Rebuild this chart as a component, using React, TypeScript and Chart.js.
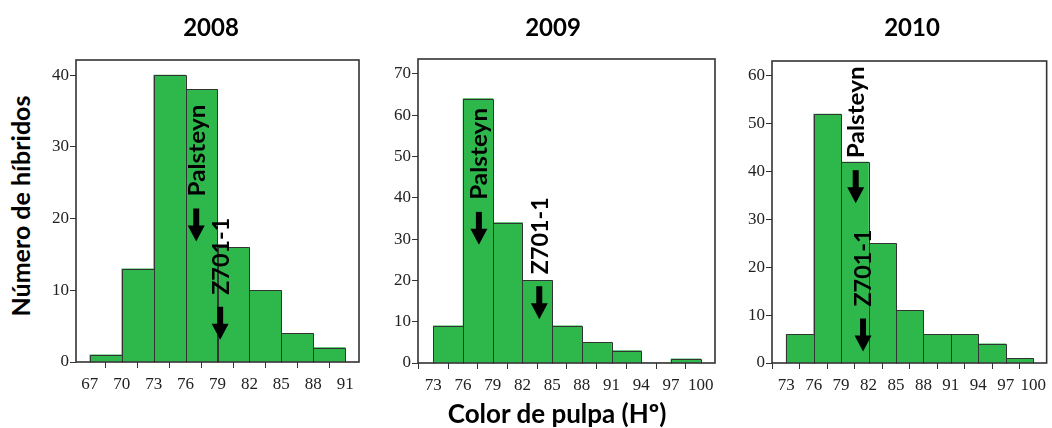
import React, { useEffect, useRef } from 'react';
import { Chart, registerables } from 'chart.js';

Chart.register(...registerables);

// ---------- data ----------
const panelTitles = ['2008', '2009', '2010'];

const binStarts2008 = [67, 70, 73, 76, 79, 82, 85, 88];
const counts2008 = [1, 13, 40, 38, 16, 10, 4, 2];
const binStarts2009 = [73, 76, 79, 82, 85, 88, 91, 94, 97];
const counts2009 = [9, 64, 34, 20, 9, 5, 3, 0, 1];
const binStarts2010 = [73, 76, 79, 82, 85, 88, 91, 94, 97];
const counts2010 = [6, 52, 42, 25, 11, 6, 6, 4, 1];
const binWidth = 3;

const xTicks2008 = [67, 70, 73, 76, 79, 82, 85, 88, 91];
const xTicks2009 = [73, 76, 79, 82, 85, 88, 91, 94, 97, 100];
const xTicks2010 = [73, 76, 79, 82, 85, 88, 91, 94, 97, 100];
const yTicks2008 = [0, 10, 20, 30, 40];
const yTicks2009 = [0, 10, 20, 30, 40, 50, 60, 70];
const yTicks2010 = [0, 10, 20, 30, 40, 50, 60];

const xRange2008 = [65.7, 92.3];
const xRange2009 = [71.45, 101.45];
const xRange2010 = [71.45, 101.47];
const yMax2008 = 42.1;
const yMax2009 = 73.6;
const yMax2010 = 63.1;

const markerLabels = ['Palsteyn', 'Z701-1'];
const markerX2008 = [77.0, 79.25];
const markerTip2008 = [16.8, 3.1];
const markerX2009 = [77.6, 83.7];
const markerTip2009 = [28.6, 10.6];
const markerX2010 = [80.6, 81.4];
const markerTip2010 = [33.4, 2.4];

const yAxisTitle = 'Número de híbridos';
const xAxisTitle = 'Color de pulpa (Hº)';

// ---------- layout / style ----------
const BAR_FILL = '#2eb84b';
const LINE = '#333333';
const SANS = 'Lato, "Open Sans", sans-serif';
const SERIF = '"Liberation Serif", "Times New Roman", serif';
const MARKER_TEXT_LEN = [92, 77];

type Panel = {
  frame: [number, number, number, number];
  padR: number;
  starts: number[];
  counts: number[];
  xTicks: number[];
  yTicks: number[];
  xRange: number[];
  yMax: number;
  mx: number[];
  mtip: number[];
};

const panels: Panel[] = [
  { frame: [76, 60, 359, 362], padR: 10, starts: binStarts2008, counts: counts2008, xTicks: xTicks2008, yTicks: yTicks2008, xRange: xRange2008, yMax: yMax2008, mx: markerX2008, mtip: markerTip2008 },
  { frame: [418, 59, 715, 363], padR: 10, starts: binStarts2009, counts: counts2009, xTicks: xTicks2009, yTicks: yTicks2009, xRange: xRange2009, yMax: yMax2009, mx: markerX2009, mtip: markerTip2009 },
  { frame: [772, 61, 1051, 363], padR: 1, starts: binStarts2010, counts: counts2010, xTicks: xTicks2010, yTicks: yTicks2010, xRange: xRange2010, yMax: yMax2010, mx: markerX2010, mtip: markerTip2010 },
];

const LEFT_W = 40;
const TOP_P = 20;
const BOTTOM_H = 40;

function makePlugin(p: Panel) {
  return {
    id: 'histExtras',
    afterDatasetsDraw(chart: any) {
      const ctx = chart.ctx;
      const meta = chart.getDatasetMeta(0);
      ctx.save();
      ctx.strokeStyle = LINE;
      ctx.lineWidth = 1;
      meta.data.forEach((el: any) => {
        const h = el.base - el.y;
        if (h <= 0.5) return;
        const l = Math.round(el.x - el.width / 2) + 0.5;
        const r = Math.round(el.x + el.width / 2) + 0.5;
        const t = Math.round(el.y) + 0.5;
        const b = Math.round(el.base) + 0.5;
        ctx.beginPath();
        ctx.moveTo(l, b);
        ctx.lineTo(l, t);
        ctx.lineTo(r, t);
        ctx.lineTo(r, b);
        ctx.stroke();
      });
      ctx.restore();
    },
    afterDraw(chart: any) {
      const ctx = chart.ctx;
      const a = chart.chartArea;
      const xs = chart.scales.x;
      const ys = chart.scales.y;
      ctx.save();
      // frame
      ctx.strokeStyle = LINE;
      ctx.lineWidth = 1.6;
      ctx.strokeRect(a.left, a.top, a.right - a.left, a.bottom - a.top);
      // markers
      ctx.fillStyle = '#000';
      markerLabels.forEach((label, i) => {
        const px = xs.getPixelForValue(p.mx[i]);
        const tip = ys.getPixelForValue(p.mtip[i]);
        const len = 33;
        const headH = 16;
        const headW = 17;
        const shaftW = 6;
        const top = tip - len;
        ctx.beginPath();
        ctx.rect(px - shaftW / 2, top, shaftW, len - headH + 1);
        ctx.fill();
        ctx.beginPath();
        ctx.moveTo(px - headW / 2, tip - headH);
        ctx.lineTo(px + headW / 2, tip - headH);
        ctx.lineTo(px, tip);
        ctx.closePath();
        ctx.fill();
        ctx.save();
        ctx.font = `bold 23px ${SANS}`;
        const w = ctx.measureText(label).width || 1;
        const sx = MARKER_TEXT_LEN[i] / w;
        ctx.translate(px, top - 12);
        ctx.rotate(-Math.PI / 2);
        ctx.scale(sx, 1);
        ctx.textAlign = 'left';
        ctx.textBaseline = 'middle';
        ctx.fillText(label, 0, 1);
        ctx.restore();
      });
      ctx.restore();
    },
  };
}

function HistPanel({ p }: { p: Panel }) {
  const ref = useRef<HTMLCanvasElement | null>(null);
  const [L, T, R, B] = p.frame;
  const w = R - L + LEFT_W + p.padR;
  const h = B - T + TOP_P + BOTTOM_H;
  useEffect(() => {
    if (!ref.current) return;
    const data = p.starts.map((s, i) => ({ x: s + binWidth / 2, y: p.counts[i] }));
    const chart = new Chart(ref.current, {
      type: 'bar',
      data: {
        datasets: [
          {
            data: data as any,
            backgroundColor: BAR_FILL,
            borderWidth: 0,
            barPercentage: 1,
            categoryPercentage: 1,
          },
        ],
      },
      options: {
        animation: false,
        responsive: false,
        devicePixelRatio: 1,
        layout: { padding: { top: TOP_P, right: p.padR, left: 0, bottom: 0 } },
        plugins: { legend: { display: false }, tooltip: { enabled: false }, title: { display: false } },
        scales: {
          x: {
            type: 'linear',
            min: p.xRange[0],
            max: p.xRange[1],
            offset: false,
            afterBuildTicks: (s: any) => {
              s.ticks = p.xTicks.map((v) => ({ value: v }));
            },
            afterFit: (s: any) => {
              s.height = BOTTOM_H;
            },
            border: { display: false },
            grid: { display: true, drawOnChartArea: false, drawTicks: true, tickLength: 6, color: LINE, lineWidth: 1 },
            ticks: {
              autoSkip: false,
              maxRotation: 0,
              padding: 6,
              color: '#222',
              font: { family: SERIF, size: 17 },
              callback: (v: any) => String(v),
            },
          },
          y: {
            type: 'linear',
            min: 0,
            max: p.yMax,
            afterBuildTicks: (s: any) => {
              s.ticks = p.yTicks.map((v) => ({ value: v }));
            },
            afterFit: (s: any) => {
              s.width = LEFT_W;
            },
            border: { display: false },
            grid: { display: true, drawOnChartArea: false, drawTicks: true, tickLength: 6, color: LINE, lineWidth: 1 },
            ticks: {
              padding: 1,
              color: '#222',
              font: { family: SERIF, size: 17 },
              callback: (v: any) => String(v),
            },
          },
        },
      },
      plugins: [makePlugin(p)],
    });
    return () => chart.destroy();
  }, []);
  return (
    <canvas
      ref={ref}
      width={w}
      height={h}
      style={{ position: 'absolute', left: L - LEFT_W, top: T - TOP_P, width: w, height: h }}
    />
  );
}

const titleCenters = [211, 553, 912];

export default function App() {
  return (
    <div
      style={{
        position: 'absolute',
        left: 0,
        top: 0,
        width: 1052,
        height: 428,
        overflow: 'hidden',
        background: '#fff',
        fontFamily: SANS,
        color: '#000',
      }}
    >
      {panels.map((p, i) => (
        <HistPanel key={i} p={p} />
      ))}
      {panelTitles.map((t, i) => (
        <div
          key={t}
          style={{
            position: 'absolute',
            left: titleCenters[i] - 60,
            width: 120,
            top: 12,
            textAlign: 'center',
            fontWeight: 'bold',
            fontSize: 24,
            lineHeight: '30px',
          }}
        >
          {t}
        </div>
      ))}
      <div
        style={{
          position: 'absolute',
          left: 20 - 150,
          top: 206 - 15,
          width: 300,
          height: 30,
          lineHeight: '30px',
          textAlign: 'center',
          fontWeight: 'bold',
          fontSize: 25,
          transform: 'rotate(-90deg)',
          whiteSpace: 'nowrap',
        }}
      >
        {yAxisTitle}
      </div>
      <div
        style={{
          position: 'absolute',
          left: 557 - 200,
          width: 400,
          top: 413 - 15,
          height: 30,
          lineHeight: '30px',
          textAlign: 'center',
          fontWeight: 'bold',
          fontSize: 26,
          whiteSpace: 'nowrap',
        }}
      >
        {xAxisTitle}
      </div>
    </div>
  );
}
